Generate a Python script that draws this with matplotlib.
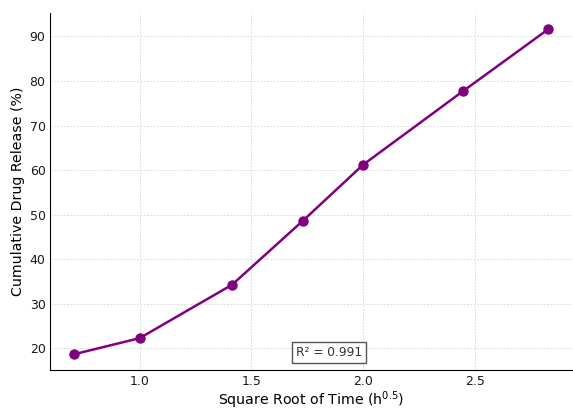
import matplotlib
matplotlib.use("Agg")
import matplotlib.pyplot as plt
import numpy as np

# release time points (h) and cumulative release (%)
time_h = [0.5, 1, 2, 3, 4, 6, 8]
release = [18.7, 22.3, 34.3, 48.7, 61.2, 77.8, 91.6]
r_squared = 0.991

sqrt_t = np.sqrt(time_h)

fig, ax = plt.subplots(figsize=(5.73, 4.08), dpi=100)
ax.plot(sqrt_t, release, "-o", color="purple", lw=1.8, markersize=6.5)

ax.set_xlabel("Square Root of Time (h$^{0.5}$)", fontsize=10.2, labelpad=1)
ax.set_ylabel("Cumulative Drug Release (%)", fontsize=10.2, labelpad=3)
ax.tick_params(length=0, labelsize=9, colors="#1a1a1a", pad=3.5)
ax.grid(True, linestyle=(0, (2, 2)), color="#d4d4d4", lw=0.6)
for side in ("top", "right"):
    ax.spines[side].set_visible(False)

ax.text(0.534, 0.05, f"R² = {r_squared}", transform=ax.transAxes,
        ha="center", va="center", fontsize=8.8, color="#333333",
        bbox=dict(facecolor="white", edgecolor="#555555", boxstyle="square,pad=0.3"))

fig.subplots_adjust(left=0.088, right=0.998, top=0.968, bottom=0.092)
fig.savefig("out.png", dpi=100)
